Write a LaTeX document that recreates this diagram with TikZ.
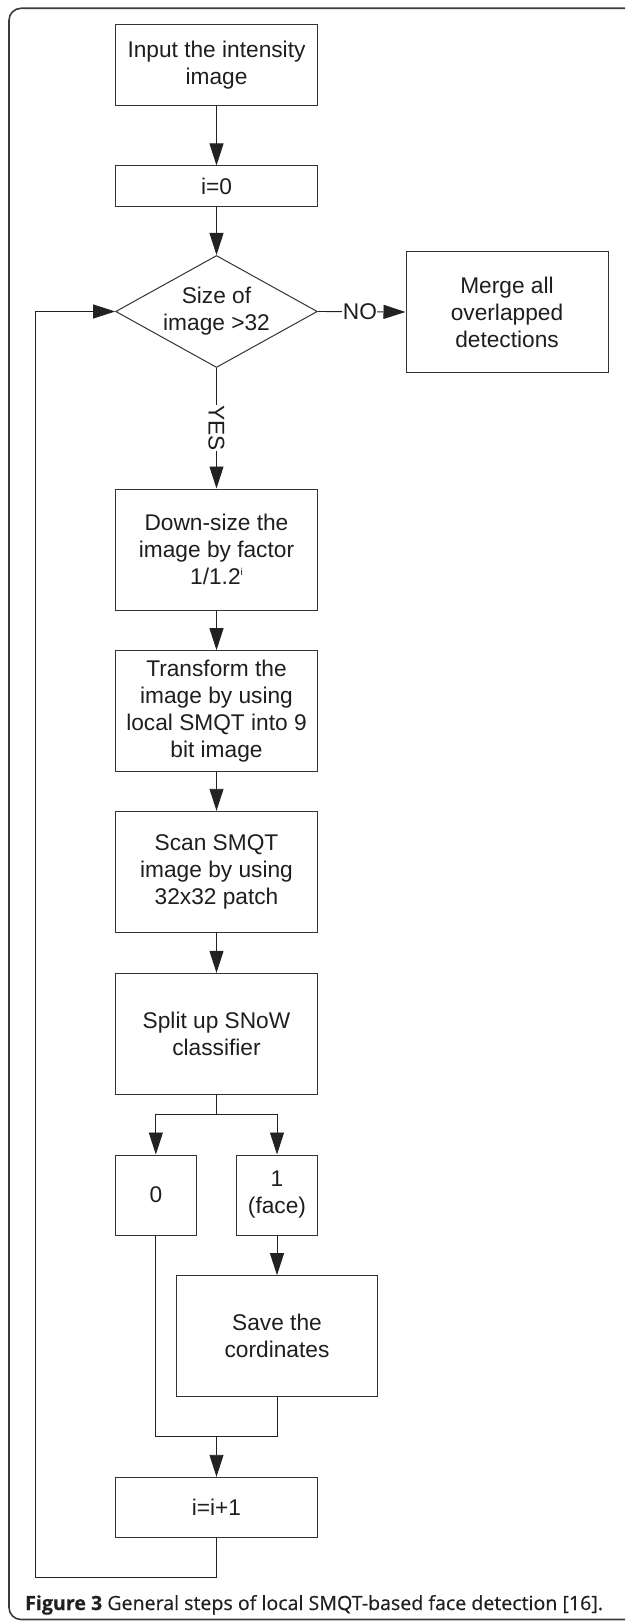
\documentclass[tikz,border=0pt]{standalone}
\usepackage{fontspec}
\setmainfont{Liberation Sans}
\newfontfamily\capfont{Open Sans}[FakeBold=0.5]
\usetikzlibrary{shapes.geometric,arrows.meta}
\definecolor{txt}{HTML}{1E1E1E}
\definecolor{boxc}{HTML}{333333}
\definecolor{linec}{HTML}{222222}
\definecolor{framec}{HTML}{3C3C3C}
\definecolor{capc}{HTML}{231F20}
\begin{document}
\begin{tikzpicture}[x=1pt,y=-1pt,
  box/.style={draw=boxc, line width=1pt, minimum width=201.7pt, inner sep=0pt, align=center, font=\fontsize{22.7}{27}\selectfont, text=txt},
  dia/.style={shape=diamond, draw=boxc, line width=1pt, minimum width=201.7pt, minimum height=112pt, inner sep=0pt, aspect=1.8, align=center, font=\fontsize{22.7}{27}\selectfont, text=txt},
  arr/.style={-{Triangle[length=22pt,width=14pt]}, line width=0.9pt, draw=linec},
  ln/.style={line width=0.9pt, draw=linec},
  lbl/.style={fill=white, inner sep=0.5pt, font=\fontsize{22.7}{27}\selectfont, text=txt},
]
\useasboundingbox (0,0) rectangle (625,1621);
\begin{scope}
  \clip (0,0) rectangle (625,1621);
  \draw[framec, line width=1.6pt, rounded corners=12pt] (9,8.3) rectangle (680,1619.5);
\end{scope}

\node[box, minimum height=80.7pt] (in) at (216.5,65.3) {Input the intensity\\image};
\node[box, minimum height=40.7pt] (i0) at (216.5,186.3) {i=0};
\node[dia] (dia) at (216.5,311.5) {Size of\\image >32};
\node[box, minimum width=202pt, minimum height=120.6pt] (merge) at (507,312) {Merge all\\overlapped\\detections};
\node[box, minimum height=121pt] (down) at (216.5,549.5) {Down-size the\\image by factor\\1/1.2\raisebox{9pt}{\fontsize{10}{10}\selectfont i}};
\node[box, minimum height=120.6pt] (trans) at (216.5,711) {Transform the\\image by using\\local SMQT into 9\\bit image};
\node[box, minimum height=121pt] (scan) at (216.5,871.8) {Scan SMQT\\image by using\\32x32 patch};
\node[box, minimum height=120.7pt] (split) at (216.5,1033.7) {Split up SNoW\\classifier};
\node[box, minimum width=80.5pt, minimum height=80pt] (b0) at (155.85,1195) {0};
\node[box, minimum width=80.5pt, minimum height=80pt] (b1) at (277,1195) {1\\(face)};
\node[box, minimum height=121pt] (save) at (277,1336.2) {Save the\\cordinates};
\node[box, minimum height=60.4pt] (inc) at (216.5,1507.5) {i=i+1};

\draw[arr] (in) -- (i0);
\draw[arr] (i0) -- (dia);
\draw[arr] (dia.east) -- node[lbl, pos=0.48] {NO} (merge.west);
\draw[arr] (dia.south) -- node[lbl, rotate=-90] {YES} (down.north);
\draw[arr] (down) -- (trans);
\draw[arr] (trans) -- (scan);
\draw[arr] (scan) -- (split);
\coordinate (sj) at (216.5,1114.3);
\draw[ln] (split.south) -- (sj);
\draw[arr] (sj) -| (b0.north);
\draw[arr] (sj) -| (b1.north);
\draw[arr] (b1) -- (save);
\coordinate (mj) at (216.5,1436.7);
\draw[ln] (b0.south) |- (mj);
\draw[ln] (save.south) |- (mj);
\draw[arr] (mj) -- (inc.north);
\coordinate (lb) at (35,1577.7);
\draw[arr] (inc.south) |- (lb) |- (dia.west);

\node[anchor=base west, inner sep=0pt, text=capc, font=\capfont\fontsize{19.6}{24}\selectfont] (cap) at (25,1610) {\textbf{Figure 3} General steps of local SMQT-based face detection [16].};
\end{tikzpicture}
\end{document}
